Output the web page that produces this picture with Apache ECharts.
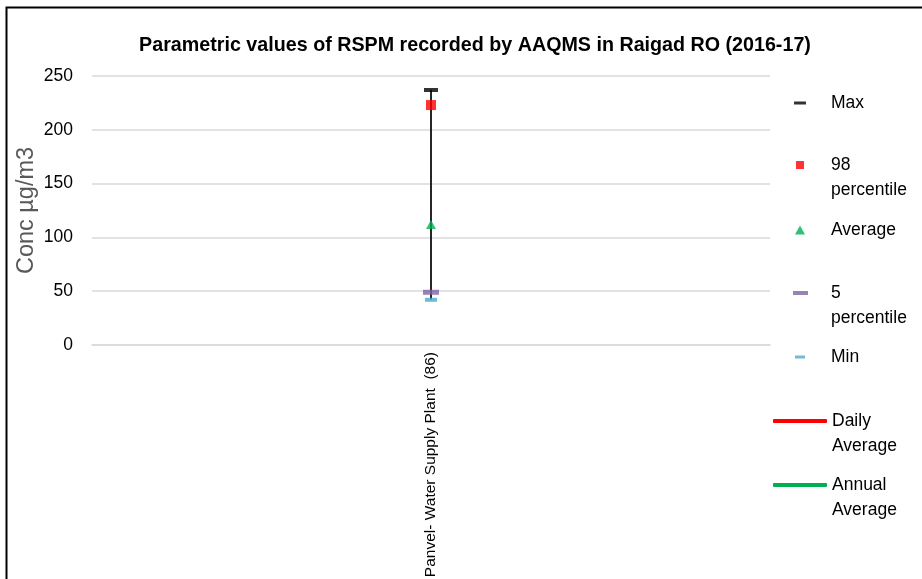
<!DOCTYPE html>
<html><head><meta charset="utf-8">
<script src="https://cdn.jsdelivr.net/npm/echarts@6/dist/echarts.min.js"></script>
<style>html,body{margin:0;padding:0;background:#fff}#c{width:922px;height:579px}</style>
</head><body><div id="c"></div>
<script>
const categories = ['Panvel- Water Supply Plant  (86)'];
const maxVals = [237];
const p98Vals = [223];
const avgVals = [112];
const p5Vals = [49];
const minVals = [42];
const yTicks = [0, 50, 100, 150, 200, 250];
const legendNames = ['Max', '98 percentile', 'Average', '5 percentile', 'Min', 'Daily Average', 'Annual Average'];
const legendLabels = {
  'Max': 'Max',
  '98 percentile': '\n98\npercentile',
  'Average': 'Average',
  '5 percentile': '\n5\npercentile',
  'Min': 'Min',
  'Daily Average': '\nDaily\nAverage',
  'Annual Average': '\nAnnual\nAverage'
};

const FN = '"Liberation Sans", Arial, sans-serif';
const chart = echarts.init(document.getElementById('c'));
const LH = 25;
function leg(name, centerY, left, w, h, icon, color, padLeft, lines) {
  return {
    data: [{name: name, icon: icon, itemStyle: {color: color}}],
    orient: 'vertical', left: left, top: centerY - lines * LH / 2, padding: 0,
    itemWidth: w, itemHeight: h, selectedMode: false,
    formatter: n => legendLabels[n],
    textStyle: {fontFamily: FN, fontSize: 17.5, color: '#000', lineHeight: LH, padding: [0, 0, 0, padLeft]}
  };
}
const option = {
  animation: false,
  title: {
    text: 'Parametric values of RSPM recorded by AAQMS in Raigad RO (2016-17)',
    left: 470, top: 31, textAlign: 'center',
    textStyle: {fontFamily: FN, fontWeight: 'bold', fontSize: 19.7, color: '#000'}
  },
  graphic: [{type: 'rect', shape: {x: 6.5, y: 7.5, width: 1000, height: 1000}, style: {fill: 'none', stroke: '#000', lineWidth: 2}, silent: true}],
  legend: [
    leg('Max', 103, 794, 12, 3, 'rect', '#000000', 20, 1),
    leg('98 percentile', 165, 796, 8, 8, 'rect', '#ff0000', 22, 3),
    leg('Average', 230, 795, 10, 9, 'triangle', '#00b050', 21, 1),
    leg('5 percentile', 293, 793, 15, 4, 'rect', '#8064a2', 18, 3),
    leg('Min', 357, 795, 10, 3, 'rect', '#4bacc6', 21, 1),
    leg('Daily Average', 421, 773, 54, 4, 'roundRect', '#ff0000', 0, 3),
    leg('Annual Average', 485, 773, 54, 4, 'roundRect', '#00b050', 0, 3)
  ],
  grid: {left: 92, right: 152, top: 76, bottom: 234, outerBoundsMode: 'none', containLabel: false},
  xAxis: {
    type: 'category', data: categories,
    axisLine: {lineStyle: {color: '#d9d9d9', width: 1.5}},
    axisTick: {show: false},
    axisLabel: {rotate: 90, margin: 7, fontFamily: FN, fontSize: 15.5, color: '#000'}
  },
  yAxis: {
    type: 'value', min: yTicks[0], max: yTicks[yTicks.length - 1], interval: 50,
    name: 'Conc µg/m3', nameLocation: 'middle', nameGap: 53, nameMoveOverlap: false,
    nameTextStyle: {fontFamily: FN, fontSize: 23.5, color: '#595959'},
    axisLine: {show: false}, axisTick: {show: false},
    axisLabel: {margin: 19, fontFamily: FN, fontSize: 17.5, color: '#000'},
    splitLine: {lineStyle: {color: '#d9d9d9', width: 1.5}}
  },
  series: [
    {
      type: 'custom', name: 'range', z: 1, silent: true,
      data: categories.map((c, i) => [i, minVals[i], maxVals[i]]),
      renderItem: (params, api) => {
        const a = api.coord([api.value(0), api.value(1)]);
        const b = api.coord([api.value(0), api.value(2)]);
        return {type: 'line', shape: {x1: a[0], y1: a[1], x2: b[0], y2: b[1]}, style: {stroke: '#262626', lineWidth: 2}};
      }
    },
    {type: 'scatter', name: 'Max', z: 3, data: maxVals, symbol: 'rect', symbolSize: [14, 4], itemStyle: {color: '#000000'}},
    {type: 'scatter', name: '98 percentile', z: 3, data: p98Vals, symbol: 'rect', symbolSize: [10, 10], itemStyle: {color: '#ff0000'}},
    {type: 'scatter', name: 'Average', z: 3, data: avgVals, symbol: 'triangle', symbolSize: [10, 9], itemStyle: {color: '#00b050'}},
    {type: 'scatter', name: '5 percentile', z: 3, data: p5Vals, symbol: 'rect', symbolSize: [16, 5], itemStyle: {color: '#8064a2'}},
    {type: 'scatter', name: 'Min', z: 3, data: minVals, symbol: 'rect', symbolSize: [12, 4], itemStyle: {color: '#4bacc6'}},
    {type: 'line', name: 'Daily Average', data: [], itemStyle: {color: '#ff0000'}, lineStyle: {color: '#ff0000', width: 3}},
    {type: 'line', name: 'Annual Average', data: [], itemStyle: {color: '#00b050'}, lineStyle: {color: '#00b050', width: 3}}
  ]
};
chart.setOption(option);
</script></body></html>
